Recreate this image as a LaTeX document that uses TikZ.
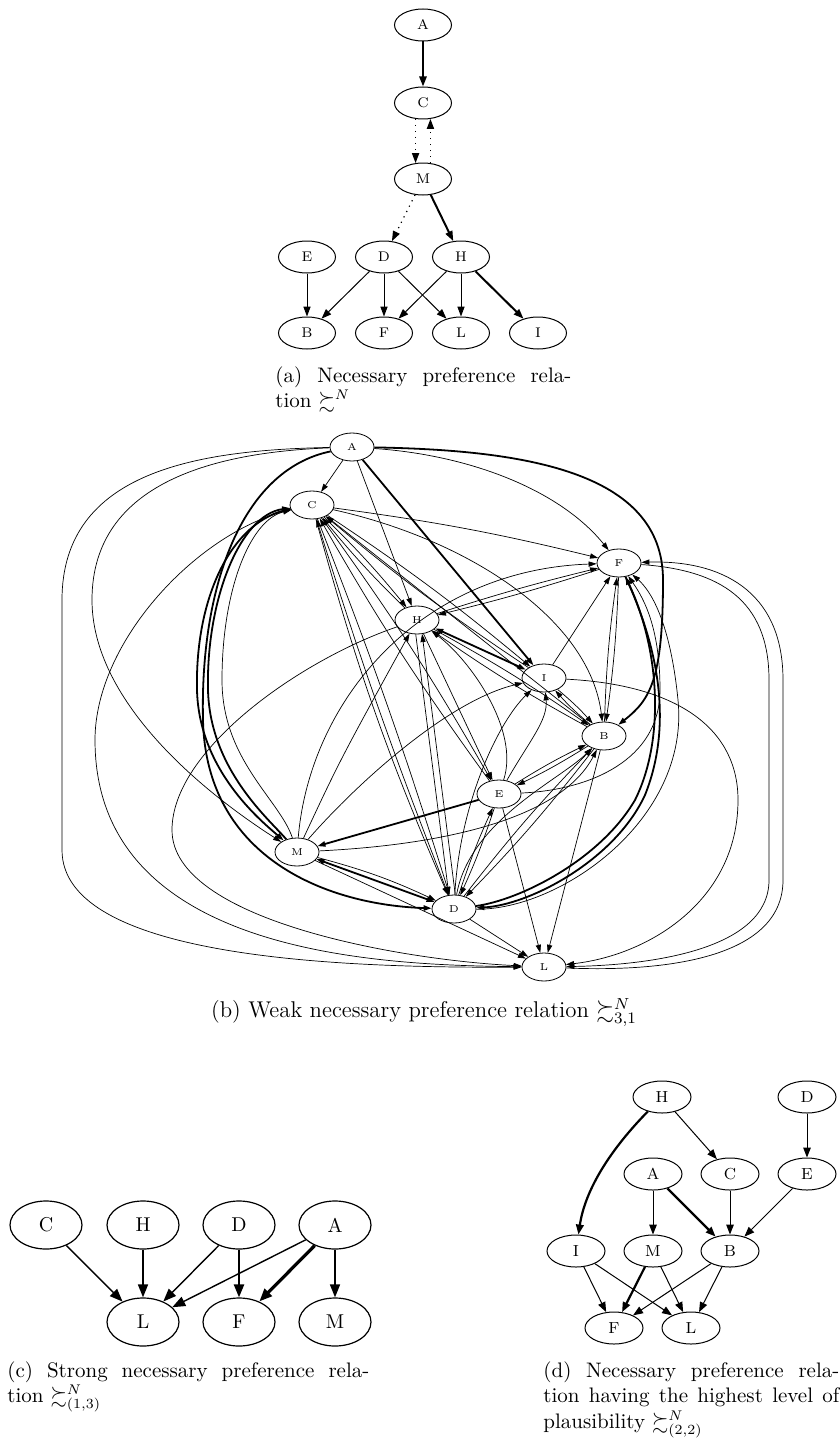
\documentclass[tikz,border=0pt]{standalone}
\usepackage{amsmath}
\usepackage{amssymb}
\usetikzlibrary{arrows.meta,shapes.geometric}

\begin{document}
\begin{tikzpicture}[x=0.5pt, y=-0.5pt,
  vtx/.style  = {draw, ellipse, inner sep=0pt, line width=0.5pt},
  vtxa/.style = {vtx, minimum width=28.5pt, minimum height=16pt, font=\scriptsize},
  vtxb/.style = {vtx, minimum width=22pt, minimum height=14pt, font=\tiny, line width=0.4pt},
  vtxc/.style = {vtx, minimum width=36pt, minimum height=24pt, line width=0.6pt},
  vtxd/.style = {vtx, minimum width=29pt, minimum height=16pt, font=\footnotesize},
  arr/.style  = {->, line width=0.5pt},
  tarr/.style = {->, line width=1pt},
  darr/.style = {->, line width=0.6pt, dash pattern=on 0.6pt off 2.4pt},
  both/.style = {<->, line width=0.9pt},
  captxt/.style = {inner sep=0pt, anchor=north west, align=justify,
                   font=\fontsize{10.5}{12.8}\selectfont}
]
  \useasboundingbox (0,0) rectangle (840,1445);

  % (a) necessary relation
  \begin{scope}[>={Triangle[length=5pt,width=3.6pt]}]
    \node[vtxa] (aA) at (423,25)  {A};
    \node[vtxa] (aC) at (423,103) {C};
    \node[vtxa] (aM) at (423,179) {M};
    \node[vtxa] (aE) at (307,257) {E};
    \node[vtxa] (aD) at (384,257) {D};
    \node[vtxa] (aH) at (461,257) {H};
    \node[vtxa] (aB) at (307,333) {B};
    \node[vtxa] (aF) at (384,333) {F};
    \node[vtxa] (aL) at (461,333) {L};
    \node[vtxa] (aI) at (538,333) {I};

    \draw[tarr] (aA) -- (aC);
    \draw[darr] (aC.245) -- (aM.115);
    \draw[darr] (aM.65) -- (aC.295);
    \draw[darr] (aM) -- (aD);
    \draw[tarr] (aM) -- (aH);
    \draw[arr] (aE) -- (aB);
    \draw[arr] (aD) -- (aB);
    \draw[arr] (aD) -- (aF);
    \draw[arr] (aD) -- (aL);
    \draw[arr] (aH) -- (aF);
    \draw[arr] (aH) -- (aL);
    \draw[tarr] (aH) -- (aI);
  \end{scope}
  \node[captxt, text width=148pt] (capa) at (275,366)
    {(a) Necessary preference rela-\linebreak tion $\succsim^N$};

  % (b) weak necessary relation
  \begin{scope}[>={Triangle[length=4pt,width=2.6pt]},
                arr/.style={->, line width=0.35pt},
                tarr/.style={->, line width=0.9pt}]
    \node[vtxb] (bA) at (352,447) {A};
    \node[vtxb] (bC) at (312,505) {C};
    \node[vtxb] (bF) at (619,563) {F};
    \node[vtxb] (bH) at (417,620) {H};
    \node[vtxb] (bI) at (544,678) {I};
    \node[vtxb] (bB) at (604,736) {B};
    \node[vtxb] (bE) at (499,794) {E};
    \node[vtxb] (bM) at (297,852) {M};
    \node[vtxb] (bD) at (454,909) {D};
    \node[vtxb] (bL) at (544,967) {L};

    % straight ones
    \draw[arr] (bA) -- (bC);
    \draw[arr] (bA) -- (bH);
    \draw[tarr] (bA) -- (bI);
    \draw[arr] (bC) to[bend left=3] (bF);
    \draw[arr] (bC) to[bend left=3] (bH);
    \draw[arr] (bH) to[bend left=3] (bC);
    \draw[arr] (bC) to[bend left=3] (bI);
    \draw[arr] (bI) to[bend left=3] (bC);
    \draw[arr] (bB) -- (bC);
    \draw[arr] (bC) to[bend left=3] (bE);
    \draw[arr] (bE) to[bend left=3] (bC);
    \draw[arr] (bC) to[bend left=2] (bD);
    \draw[arr] (bD) to[bend left=2] (bC);
    \draw[arr] (bC) to[bend right=4] (bD);
    \draw[arr] (bH) to[bend left=2] (bF);
    \draw[arr] (bF) to[bend left=2] (bH);
    \draw[both] (bH) -- (bI);
    \draw[arr] (bH) to[bend left=3] (bB);
    \draw[arr] (bB) to[bend left=3] (bH);
    \draw[arr] (bH) -- (bE);
    \draw[arr] (bH.265) -- (bD.110);
    \draw[arr] (bD.85) -- (bH.290);
    \draw[arr] (bI) -- (bF);
    \draw[arr] (bI) to[bend left=4] (bB);
    \draw[arr] (bB) to[bend left=4] (bI);
    \draw[arr] (bF) to[bend left=3] (bB);
    \draw[arr] (bB) to[bend left=3] (bF);
    \draw[arr] (bB) to[bend left=3] (bE);
    \draw[arr] (bE) to[bend left=3] (bB);
    \draw[arr] (bB) to[bend left=3] (bD);
    \draw[arr] (bD) to[bend left=3] (bB);
    \draw[arr] (bE) to[bend left=3] (bD);
    \draw[arr] (bD) to[bend left=3] (bE);
    \draw[arr] (bE) -- (bL);
    \draw[arr] (bB) -- (bL);
    \draw[arr] (bD) -- (bL);
    \draw[arr] (bM) -- (bL);
    \draw[tarr] (bE) -- (bM);
    \draw[both] (bM) -- (bD);
    \draw[arr] (bM) to[bend left=5] (bD);
    \draw[arr] (bM) .. controls (340,760) .. (bH);

    % curved ones
    \draw[arr] (bA) .. controls (470,455) and (560,490) .. (bF);
    \draw[tarr] (bA) .. controls (520,450) and (663,470) .. (663,580)
                     .. controls (663,680) and (650,700) .. (bB);
    \draw[tarr] (bA) .. controls (240,470) and (200,590) .. (203,720)
                     .. controls (206,860) and (330,905) .. (bD);
    \draw[arr] (bA) .. controls (200,450) and (62,470) .. (62,600) -- (62,850)
                    .. controls (62,960) and (350,968) .. (bL);
    \draw[arr] (bA) .. controls (220,452) and (92,480) .. (92,600)
                    .. controls (92,700) and (200,790) .. (bM);
    \draw[arr] (bC) .. controls (200,530) and (95,640) .. (95,740)
                    .. controls (95,955) and (380,965) .. (bL);
    \draw[arr] (bH) .. controls (300,660) and (172,750) .. (172,830)
                    .. controls (172,920) and (400,960) .. (bL);
    \draw[tarr] (bC) .. controls (230,520) and (195,600) .. (197,690)
                     .. controls (199,770) and (260,820) .. (bM);
    \draw[tarr] (bM) .. controls (270,820) and (210,770) .. (208,690)
                     .. controls (206,600) and (240,515) .. (bC);
    \draw[arr] (bM) .. controls (280,800) and (222,760) .. (222,680)
                    .. controls (222,590) and (250,520) .. (bC);
    \draw[arr] (bC) .. controls (470,540) and (590,620) .. (bB);
    \draw[tarr] (bD) .. controls (520,900) and (600,860) .. (635,800)
                     .. controls (665,740) and (660,650) .. (bF);
    \draw[tarr] (bF) .. controls (655,640) and (675,720) .. (645,795)
                     .. controls (615,860) and (530,905) .. (bD);
    \draw[arr] (bD) .. controls (560,910) and (690,820) .. (678,700)
                    .. controls (670,620) and (650,590) .. (bF);
    \draw[arr] (bE) .. controls (590,790) and (660,760) .. (660,690)
                    .. controls (660,630) and (645,600) .. (bF);
    \draw[arr] (bI) .. controls (680,685) and (738,730) .. (738,800)
                    .. controls (738,900) and (650,955) .. (bL);
    \draw[arr] (bF) .. controls (720,570) and (769,600) .. (769,680) -- (769,880)
                    .. controls (769,950) and (650,965) .. (bL);
    \draw[arr] (bL) .. controls (660,972) and (783,960) .. (783,880) -- (783,680)
                    .. controls (783,590) and (720,560) .. (bF);
    \draw[arr] (bM) .. controls (310,700) and (420,570) .. (bF);
    \draw[arr] (bM) .. controls (360,780) and (450,700) .. (bI);
    \draw[arr] (bM) .. controls (440,845) and (560,820) .. (bB);
    \draw[arr] (bE) .. controls (520,730) and (470,660) .. (bH);
    \draw[arr] (bE) .. controls (530,740) and (548,720) .. (bI);
    \draw[arr] (bD) .. controls (460,800) and (500,720) .. (bI);
    \draw[arr] (bD) .. controls (470,820) and (560,780) .. (bB);
  \end{scope}
  \node[inner sep=0pt, anchor=base, font=\fontsize{11.4}{13.6}\selectfont] (capb)
    at (424,1017) {(b) Weak necessary preference relation $\succsim^N_{3,1}$};

  % (c) strong necessary relation
  \begin{scope}[>={Triangle[length=6.5pt,width=5pt]},
                arr/.style={->, line width=0.7pt}]
    \node[vtxc] (cC) at (46,1225)  {C};
    \node[vtxc] (cH) at (143,1225) {H};
    \node[vtxc] (cD) at (239,1225) {D};
    \node[vtxc] (cA) at (335,1225) {A};
    \node[vtxc] (cL) at (143,1322) {L};
    \node[vtxc] (cF) at (239,1322) {F};
    \node[vtxc] (cM) at (335,1322) {M};

    \draw[arr] (cC) -- (cL);
    \draw[arr] (cH) -- (cL);
    \draw[arr] (cD) -- (cL);
    \draw[arr] (cA) -- (cL);
    \draw[arr, line width=1.2pt] (cD) -- (cF);
    \draw[arr, line width=1.6pt] (cA) -- (cF);
    \draw[arr] (cA) -- (cM);
  \end{scope}
  \node[captxt, text width=181pt] (capc) at (7,1361)
    {(c) Strong necessary preference rela-\linebreak tion $\succsim^N_{(1,3)}$};

  % (d) highest plausibility
  \begin{scope}[>={Triangle[length=5pt,width=3.8pt]},
                arr/.style={->, line width=0.5pt},
                tarr/.style={->, line width=1.1pt}]
    \node[vtxd] (dH) at (662,1097) {H};
    \node[vtxd] (dD) at (807,1097) {D};
    \node[vtxd] (dA) at (653,1174) {A};
    \node[vtxd] (dC) at (730,1174) {C};
    \node[vtxd] (dE) at (807,1174) {E};
    \node[vtxd] (dI) at (576,1251) {I};
    \node[vtxd] (dM) at (653,1251) {M};
    \node[vtxd] (dB) at (730,1251) {B};
    \node[vtxd] (dF) at (614,1328) {F};
    \node[vtxd] (dL) at (691,1328) {L};

    \draw[tarr] (dH) .. controls (610,1150) and (585,1190) .. (dI);
    \draw[arr] (dH) -- (dC);
    \draw[arr] (dD) -- (dE);
    \draw[arr] (dA) -- (dM);
    \draw[tarr] (dA) -- (dB);
    \draw[arr] (dC) -- (dB);
    \draw[arr] (dE) -- (dB);
    \draw[arr] (dI) -- (dF);
    \draw[arr] (dI) -- (dL);
    \draw[tarr] (dM) -- (dF);
    \draw[arr] (dM) -- (dL);
    \draw[arr] (dB) -- (dF);
    \draw[arr] (dB) -- (dL);
  \end{scope}
  \node[captxt, text width=148pt] (capd) at (543,1361)
    {(d) Necessary preference rela-\linebreak tion having the highest level of\linebreak plausibility $\succsim^N_{(2,2)}$};
\end{tikzpicture}
\end{document}
